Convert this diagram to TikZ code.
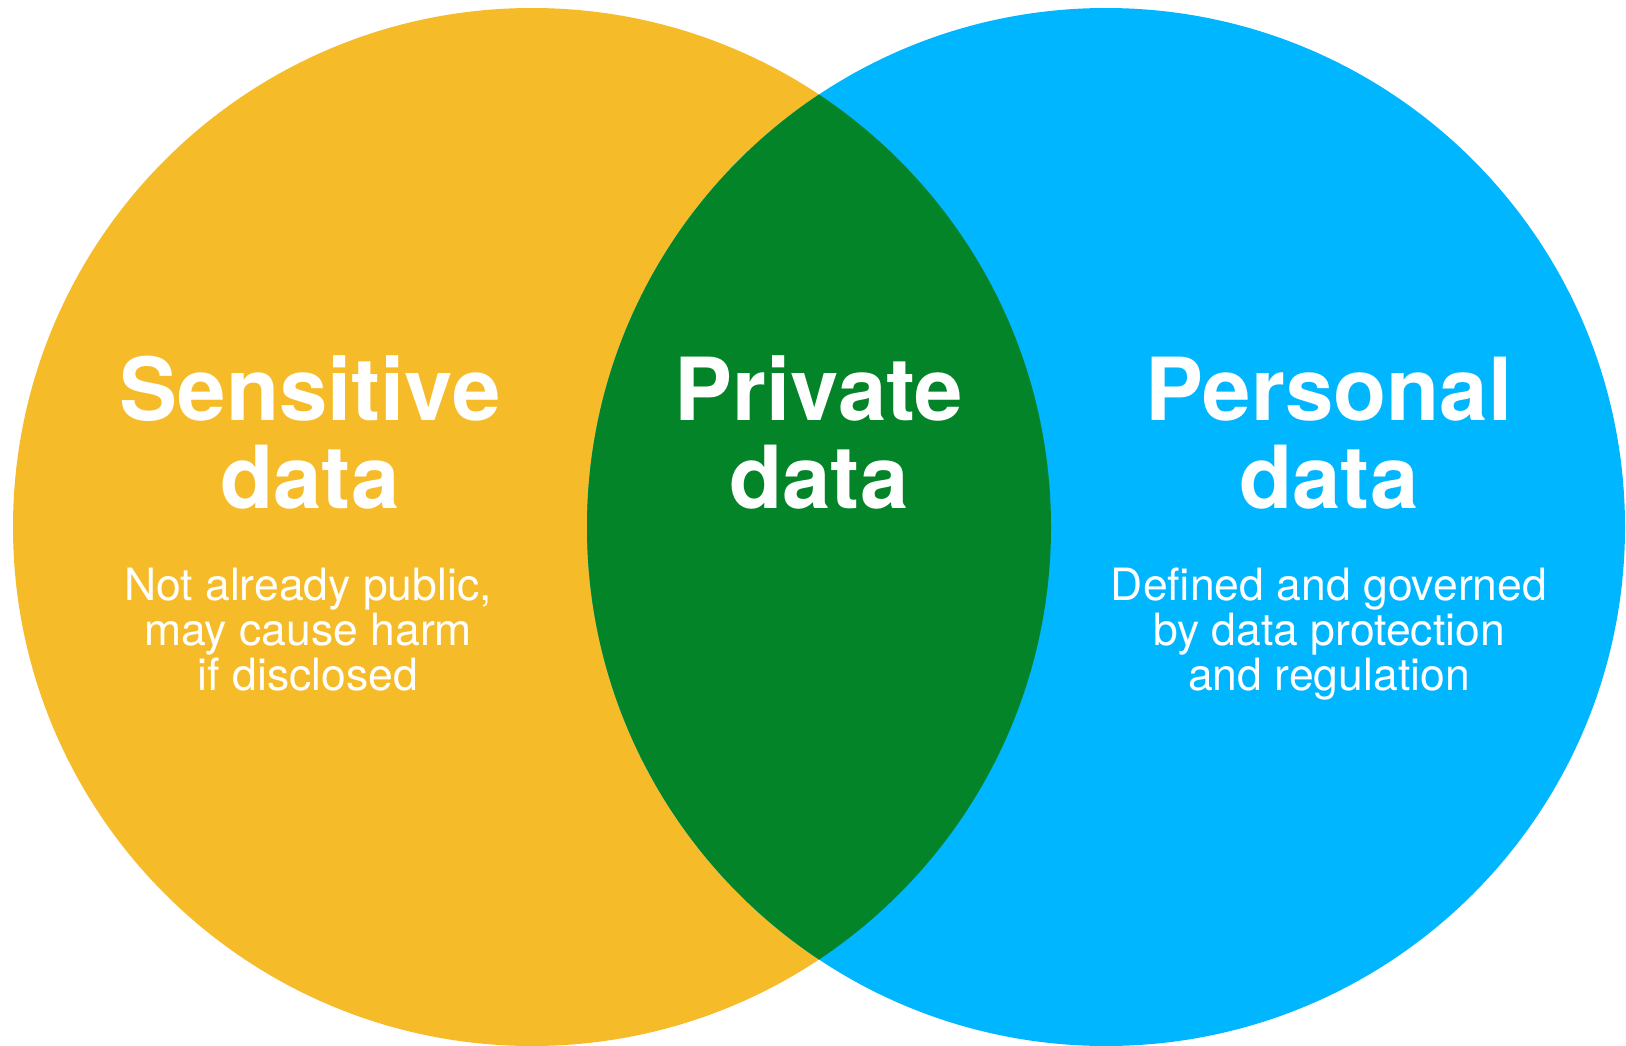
\documentclass[tikz,border=0pt]{standalone}
\usepackage{fontspec}
\setmainfont{TeX Gyre Heros}
\definecolor{sensY}{HTML}{F6BB28}
\definecolor{persB}{HTML}{00B6FF}
\definecolor{privG}{HTML}{038428}
\begin{document}
\begin{tikzpicture}[x=1pt,y=-1pt,
  title/.style={text=white,font=\fontsize{87}{88}\selectfont\bfseries,align=center,anchor=base,inner sep=0pt},
  desc/.style={text=white,font=\fontsize{44.5}{45}\selectfont,align=center,anchor=base,inner sep=0pt}]
\useasboundingbox (0,0) rectangle (1626,1045);
\fill[white] (0,0) rectangle (1626,1045);
\coordinate (cL) at (532,527);
\coordinate (cR) at (1106,527);
\fill[sensY] (cL) circle[radius=519];
\fill[persB] (cR) circle[radius=519];
\begin{scope}
  \clip (cL) circle[radius=519];
  \fill[privG] (cR) circle[radius=519];
\end{scope}
\node[title] (sens) at (310,508) {Sensitive\\data};
\node[title] (priv) at (819,508) {Private\\data};
\node[title] (pers) at (1329,508) {Personal\\data};
\node[desc] (sensd) at (308,690) {Not already public,\\may cause harm\\if disclosed};
\node[desc] (persd) at (1329,690) {Defined and governed\\by data protection\\and regulation};
\end{tikzpicture}
\end{document}
